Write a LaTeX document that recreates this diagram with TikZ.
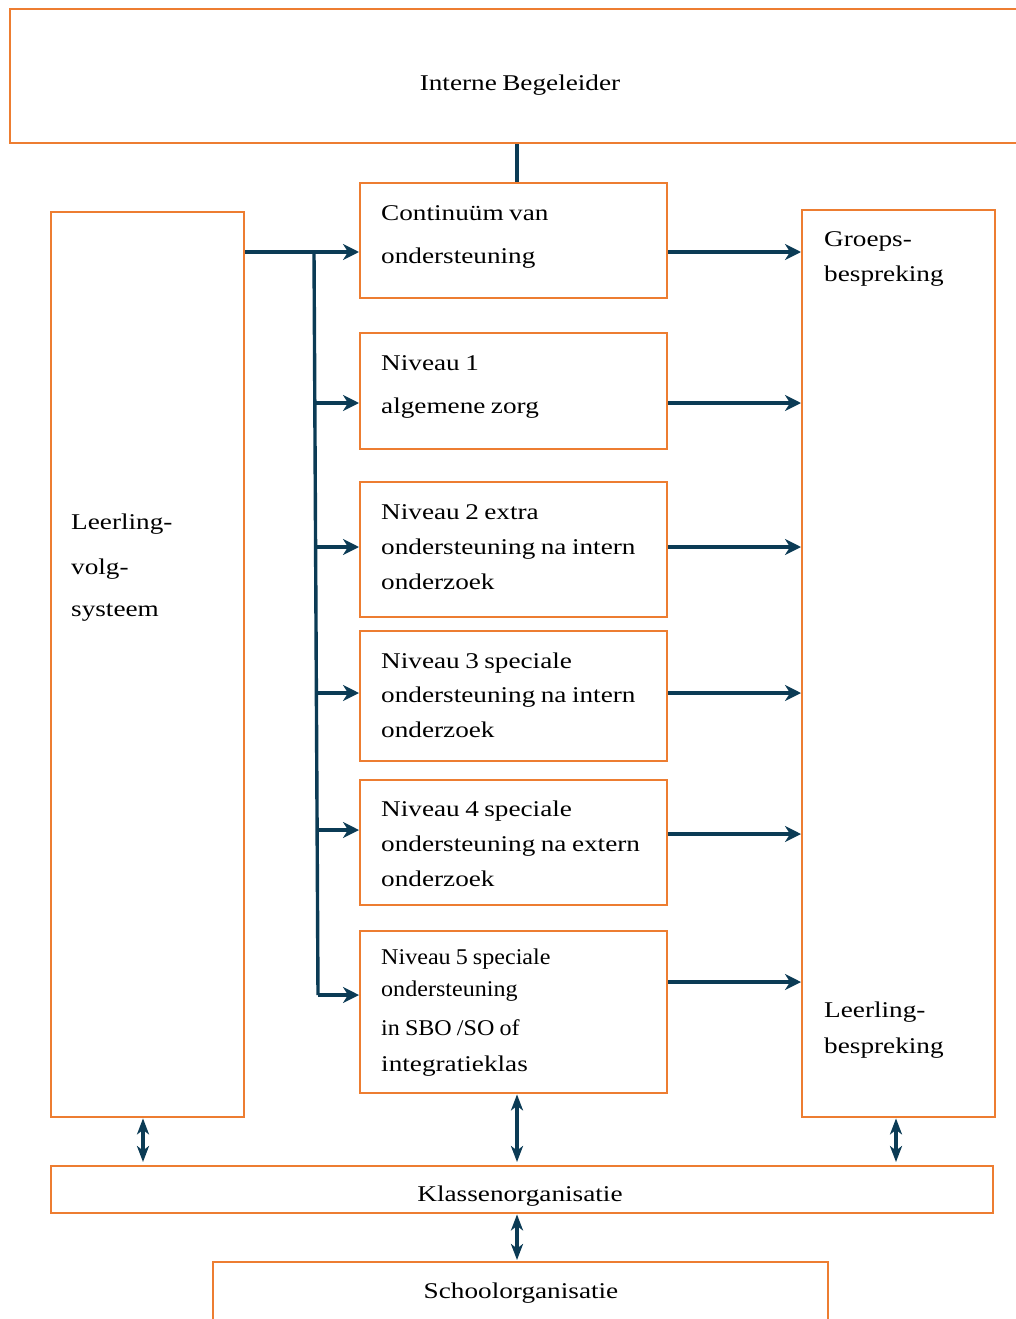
\documentclass[tikz,border=0pt]{standalone}
\usepackage{fontspec}
\setmainfont{Liberation Serif}
\newfontfamily\widefont[FakeStretch=1.21,WordSpace=0.8]{Liberation Serif}
\newfontfamily\narrowfont[FakeStretch=1.07,WordSpace=0.85]{Liberation Serif}
\usetikzlibrary{arrows.meta,calc}
\definecolor{boxorange}{HTML}{ED7D31}
\definecolor{navy}{HTML}{0B3B55}
\newcommand{\wideset}{\widefont\fontsize{22.5}{28}\selectfont}
\newcommand{\narrowset}{\narrowfont\fontsize{22.5}{28}\selectfont}
\begin{document}
\begin{tikzpicture}[x=1pt,y=-1pt,
  box/.style={draw=boxorange,line width=2.4pt,fill=white,inner sep=0pt,anchor=north west},
  lbl/.style={anchor=base west,inner sep=0pt,font=\wideset},
  slbl/.style={anchor=base west,inner sep=0pt,font=\narrowset},
  clbl/.style={anchor=base,inner sep=0pt,font=\wideset},
  conn/.style={draw=navy,line width=3.4pt},
  arr/.style={conn,-{Stealth[length=16pt,width=16pt,inset=5pt]}},
  darr/.style={draw=navy,line width=3.2pt,{Stealth[length=16pt,width=12pt,inset=4.5pt]}-{Stealth[length=16pt,width=12pt,inset=4.5pt]}}
]
\clip (0,0) rectangle (1016,1319);
% boxes
\node[box,minimum width=1030pt,minimum height=134pt] (IB) at (9,8) {};
\node[box,minimum width=193pt,minimum height=905pt] (L) at (50,211) {};
\node[box,minimum width=193pt,minimum height=907pt] (R) at (801,209) {};
\node[box,minimum width=307pt,minimum height=115pt] (b1) at (359,182) {};
\node[box,minimum width=307pt,minimum height=116pt] (b2) at (359,332) {};
\node[box,minimum width=307pt,minimum height=135pt] (b3) at (359,481) {};
\node[box,minimum width=307pt,minimum height=130pt] (b4) at (359,630) {};
\node[box,minimum width=307pt,minimum height=125pt] (b5) at (359,779) {};
\node[box,minimum width=307pt,minimum height=162pt] (b6) at (359,930) {};
\node[box,minimum width=942pt,minimum height=47pt] (K) at (50,1165) {};
\node[box,minimum width=615pt,minimum height=80pt] (S) at (212,1261) {};
% texts
\node[clbl] (tIB) at (520,91) {Interne Begeleider};
\node[lbl] (tL1) at (71,529) {Leerling-};
\node[lbl] (tL2) at (71,574) {volg-};
\node[lbl] (tL3) at (71,616) {systeem};
\node[lbl] (tR1) at (824,246) {Groeps-};
\node[lbl] (tR2) at (824,281) {bespreking};
\node[lbl] (tR3) at (824,1017) {Leerling-};
\node[lbl] (tR4) at (824,1053) {bespreking};
\node[lbl] (t11) at (381,220) {Continuüm van};
\node[lbl] (t12) at (381,263) {ondersteuning};
\node[lbl] (t21) at (381,370) {Niveau 1};
\node[lbl] (t22) at (381,413) {algemene zorg};
\node[lbl] (t31) at (381,519) {Niveau 2 extra};
\node[lbl] (t32) at (381,554) {ondersteuning na intern};
\node[lbl] (t33) at (381,589) {onderzoek};
\node[lbl] (t41) at (381,668) {Niveau 3 speciale};
\node[lbl] (t42) at (381,702) {ondersteuning na intern};
\node[lbl] (t43) at (381,737) {onderzoek};
\node[lbl] (t51) at (381,816) {Niveau 4 speciale};
\node[lbl] (t52) at (381,851) {ondersteuning na extern};
\node[lbl] (t53) at (381,886) {onderzoek};
\node[slbl] (t61) at (381,964) {Niveau 5 speciale};
\node[slbl] (t62) at (381,996) {ondersteuning};
\node[slbl] (t63) at (381,1035) {in SBO /SO of};
\node[lbl] (t64) at (381,1071) {integratieklas};
\node[clbl] (tK) at (520,1201) {Klassenorganisatie};
\node[clbl] (tS) at (521,1298) {Schoolorganisatie};
% helper coordinates
\coordinate (y1) at (0,252);
\coordinate (y2) at (0,403);
\coordinate (y3) at (0,547);
\coordinate (y4) at (0,693);
\coordinate (y5) at (0,830);
\coordinate (y6) at (0,995);
\coordinate (r5) at (0,834);
\coordinate (r6) at (0,982);
\coordinate (tt) at (314,252);
\coordinate (tb) at (318,995);
\coordinate (x1) at (517,0);
\coordinate (xl) at (143,0);
\coordinate (xr) at (896,0);
% connectors
\draw[conn] (IB.south -| x1) -- (b1.north -| x1);
\draw[arr] (L.east |- y1) -- (b1.west |- y1);
\draw[conn] (tt) -- (tb);
\draw[arr] (314.8,403) -- (b2.west |- y2);
\draw[arr] (315.6,547) -- (b3.west |- y3);
\draw[arr] (316.4,693) -- (b4.west |- y4);
\draw[arr] (317.1,830) -- (b5.west |- y5);
\draw[arr] (tb) -- (b6.west |- y6);
\draw[arr] (b1.east |- y1) -- (R.west |- y1);
\draw[arr] (b2.east |- y2) -- (R.west |- y2);
\draw[arr] (b3.east |- y3) -- (R.west |- y3);
\draw[arr] (b4.east |- y4) -- (R.west |- y4);
\draw[arr] (b5.east |- r5) -- (R.west |- r5);
\draw[arr] (b6.east |- r6) -- (R.west |- r6);
\draw[darr] (L.south -| xl) -- ($(K.north -| xl)+(0,-3)$);
\draw[darr] (b6.south -| x1) -- ($(K.north -| x1)+(0,-3)$);
\draw[darr] (R.south -| xr) -- ($(K.north -| xr)+(0,-3)$);
\draw[darr] (K.south -| x1) -- ($(S.north -| x1)+(0,-1)$);
\end{tikzpicture}
\end{document}
